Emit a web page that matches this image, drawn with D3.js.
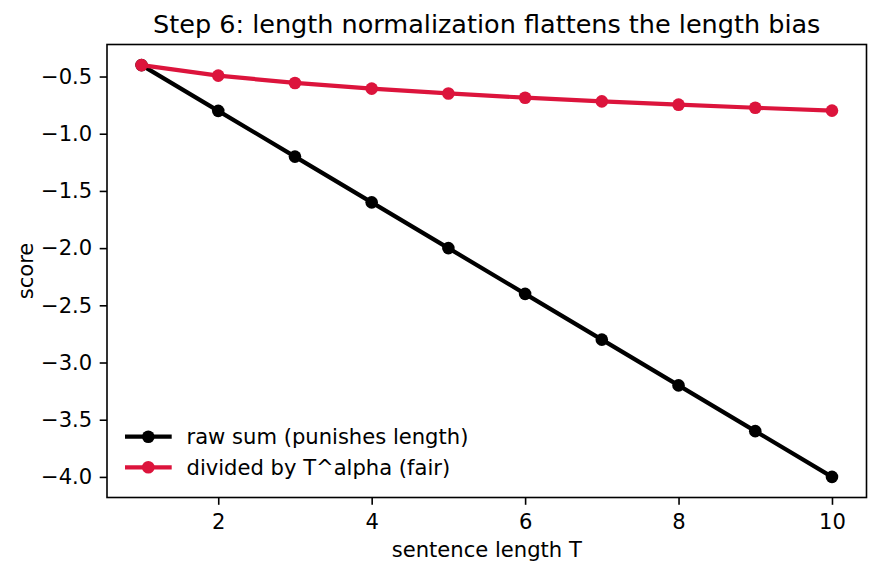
<!DOCTYPE html>
<html><head><meta charset="utf-8">
<script src="https://cdn.jsdelivr.net/npm/d3@7"></script>
<style>body{margin:0;background:#fff;} svg{display:block;font-family:"DejaVu Sans",sans-serif;}</style>
</head><body><svg id="c" width="880" height="573"></svg>
<script>
const lengths = [1,2,3,4,5,6,7,8,9,10];
const rawSum = [-0.4,-0.8,-1.2,-1.6,-2.0,-2.4,-2.8,-3.2,-3.6,-4.0];
const normalized = [-0.4,-0.492,-0.556,-0.606,-0.648,-0.685,-0.717,-0.746,-0.773,-0.798];
const xTicks = [2,4,6,8,10];
const yTicks = [-0.5,-1.0,-1.5,-2.0,-2.5,-3.0,-3.5,-4.0];
const seriesNames = ["raw sum (punishes length)","divided by T^alpha (fair)"];
const seriesColors = ["#000000","#dc143c"];

const FS = "21.1px", TFS = "25.5px", FF = "DejaVu Sans, sans-serif";
const svg = d3.select("#c");
const L=107, R=866.5, T=44.5, B=497.5;
const x = d3.scaleLinear().domain([0.55,10.45]).range([L,R]);
const y = d3.scaleLinear().domain([-4.18,-0.22]).range([B,T]);

const fmt = d => (d<0?"\u2212":"")+Math.abs(d).toFixed(1);
const xAxis = svg.append("g").attr("transform",`translate(0,${B})`)
  .call(d3.axisBottom(x).tickValues(xTicks).tickSize(7.3).tickPadding(9.3).tickFormat(d3.format("d")));
const yAxis = svg.append("g").attr("transform",`translate(${L},0)`)
  .call(d3.axisLeft(y).tickValues(yTicks).tickSize(7.3).tickPadding(7.5).tickFormat(fmt));
[xAxis,yAxis].forEach(a=>{
  a.select(".domain").remove();
  a.selectAll("line").attr("stroke","#000").attr("stroke-width",1.6);
  a.selectAll("text").style("font-size",FS).style("font-family",FF).attr("fill","#000");
});

const series = [rawSum, normalized];
series.forEach((vals,i)=>{
  const pts = lengths.map((t,j)=>[t,vals[j]]);
  svg.append("path").datum(pts)
    .attr("fill","none").attr("stroke",seriesColors[i]).attr("stroke-width",4.2)
    .attr("stroke-linejoin","round").attr("stroke-linecap","butt")
    .attr("d",d3.line().x(d=>x(d[0])).y(d=>y(d[1])));
  svg.append("g").selectAll("circle").data(pts).enter().append("circle")
    .attr("cx",d=>x(d[0])).attr("cy",d=>y(d[1])).attr("r",6.3).attr("fill",seriesColors[i]);
});

svg.append("rect").attr("x",L).attr("y",T).attr("width",R-L).attr("height",B-T)
  .attr("fill","none").attr("stroke","#000").attr("stroke-width",1.6);

// legend
seriesNames.forEach((n,i)=>{
  const ly = 436.7 + i*30.6;
  svg.append("line").attr("x1",125).attr("x2",171.7).attr("y1",ly).attr("y2",ly)
    .attr("stroke",seriesColors[i]).attr("stroke-width",4.2);
  svg.append("circle").attr("cx",148.3).attr("cy",ly).attr("r",6.3).attr("fill",seriesColors[i]);
  svg.append("text").attr("x",186.5).attr("y",ly).attr("dy","0.36em")
    .style("font-size",FS).style("font-family",FF).attr("fill","#000").text(n);
});

svg.append("text").attr("x",(L+R)/2).attr("y",33.3).attr("text-anchor","middle")
  .style("font-size",TFS).style("font-family",FF).attr("fill","#000")
  .text("Step 6: length normalization flattens the length bias");
svg.append("text").attr("x",(L+R)/2).attr("y",556.5).attr("text-anchor","middle")
  .style("font-size",FS).style("font-family",FF).attr("fill","#000").text("sentence length T");
svg.append("text").attr("transform",`translate(32.5,${(T+B)/2}) rotate(-90)`).attr("text-anchor","middle")
  .style("font-size",FS).style("font-family",FF).attr("fill","#000").text("score");
</script></body></html>
